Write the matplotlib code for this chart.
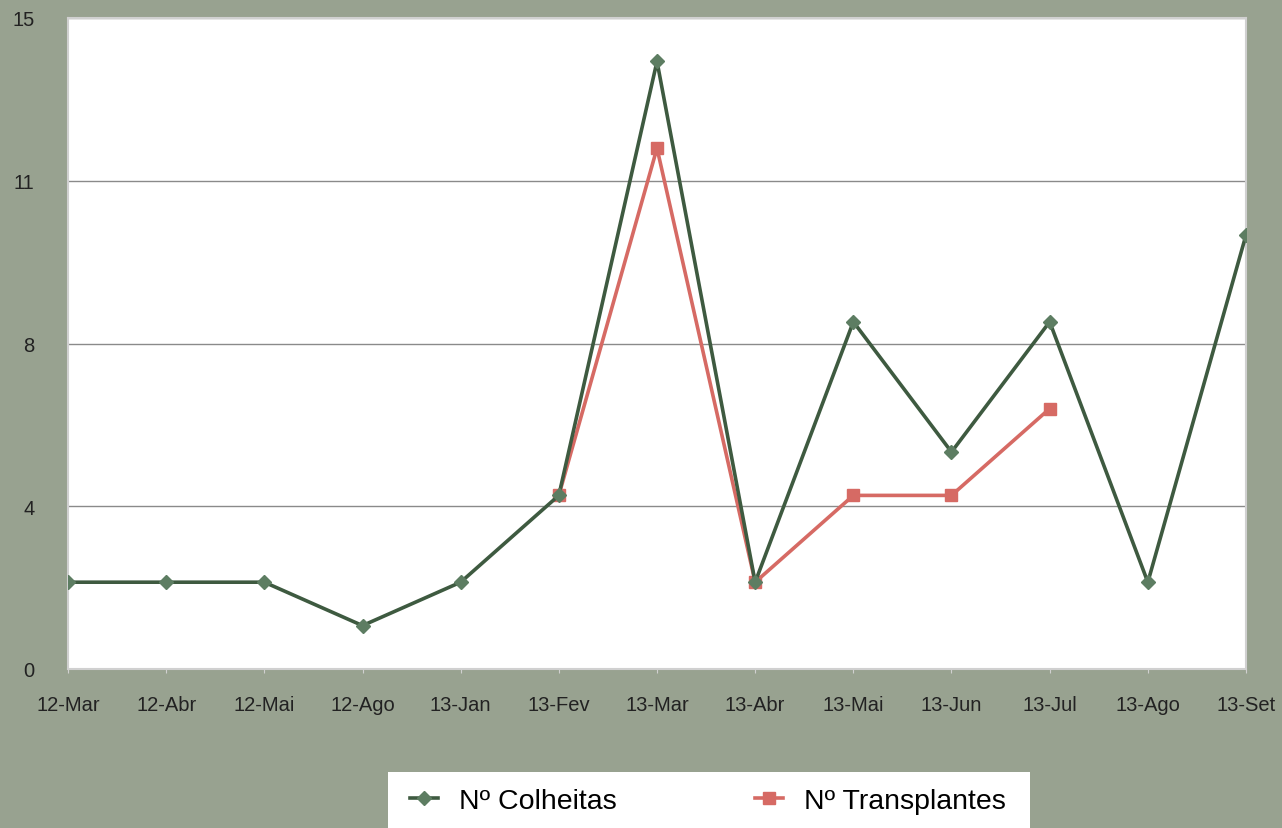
import numpy as np
import matplotlib.pyplot as plt
from matplotlib.patches import Rectangle

# data
meses = ['12-Mar', '12-Abr', '12-Mai', '12-Ago', '13-Jan', '13-Fev', '13-Mar',
         '13-Abr', '13-Mai', '13-Jun', '13-Jul', '13-Ago', '13-Set']
colheitas = [2, 2, 2, 1, 2, 4, 14, 2, 8, 5, 8, 2, 10]
transplantes = [None, None, None, None, None, 4, 12, 2, 4, 4, 6, None, None]
y_ticks = [0, 3.75, 7.5, 11.25, 15]
y_labels = ['0', '4', '8', '11', '15']

bg = '#98a290'
verde = '#3e5a40'
verde_marker = '#5d7d62'
vermelho = '#d66a64'

plt.rcParams['font.family'] = ['Liberation Sans', 'DejaVu Sans']

fig = plt.figure(figsize=(12.82, 8.29), dpi=100, facecolor=bg)
ax = fig.add_axes([68/1282, 1-670/829, 1178/1282, 651/829])
ax.set_facecolor('white')

x = np.arange(len(meses))
t = np.array([np.nan if v is None else v for v in transplantes], dtype=float)

ax.plot(x, t, color=vermelho, linewidth=2.6, marker='s', markersize=8,
        markerfacecolor=vermelho, markeredgecolor=vermelho, label='Nº Transplantes', zorder=3)
ax.plot(x, colheitas, color=verde, linewidth=2.6, marker='D', markersize=7,
        markerfacecolor=verde_marker, markeredgecolor=verde_marker, label='Nº Colheitas', zorder=4)

ax.set_xlim(0, len(meses) - 1)
ax.set_ylim(0, 15)
ax.set_xticks(x)
ax.set_xticklabels(meses)
ax.set_yticks(y_ticks)
ax.set_yticklabels(y_labels)
ax.tick_params(axis='x', length=3, color='#d0d0d0', pad=16, labelsize=14.5, labelcolor='#222222')
ax.tick_params(axis='y', length=0, pad=24, labelsize=14.5, labelcolor='#222222')
ax.grid(axis='y', color='#8a8a8a', linewidth=1)
ax.set_axisbelow(True)
for s in ax.spines.values():
    s.set_color('#d0d0d0')
    s.set_linewidth(1.5)

# legend box at the bottom
fig.patches.append(Rectangle((388/1282, 0), 642/1282, 56/829, transform=fig.transFigure,
                             facecolor='white', edgecolor='none', zorder=0))
h, l = ax.get_legend_handles_labels()
fig.legend(h[::-1], l[::-1], loc='center left', bbox_to_anchor=(410/1282, 1-802/829),
           ncol=2, frameon=False, fontsize=20.5, handlelength=1.0, columnspacing=4.85,
           handletextpad=0.72, borderaxespad=0, borderpad=0)

fig.savefig('out.png', dpi=100, facecolor=bg)
